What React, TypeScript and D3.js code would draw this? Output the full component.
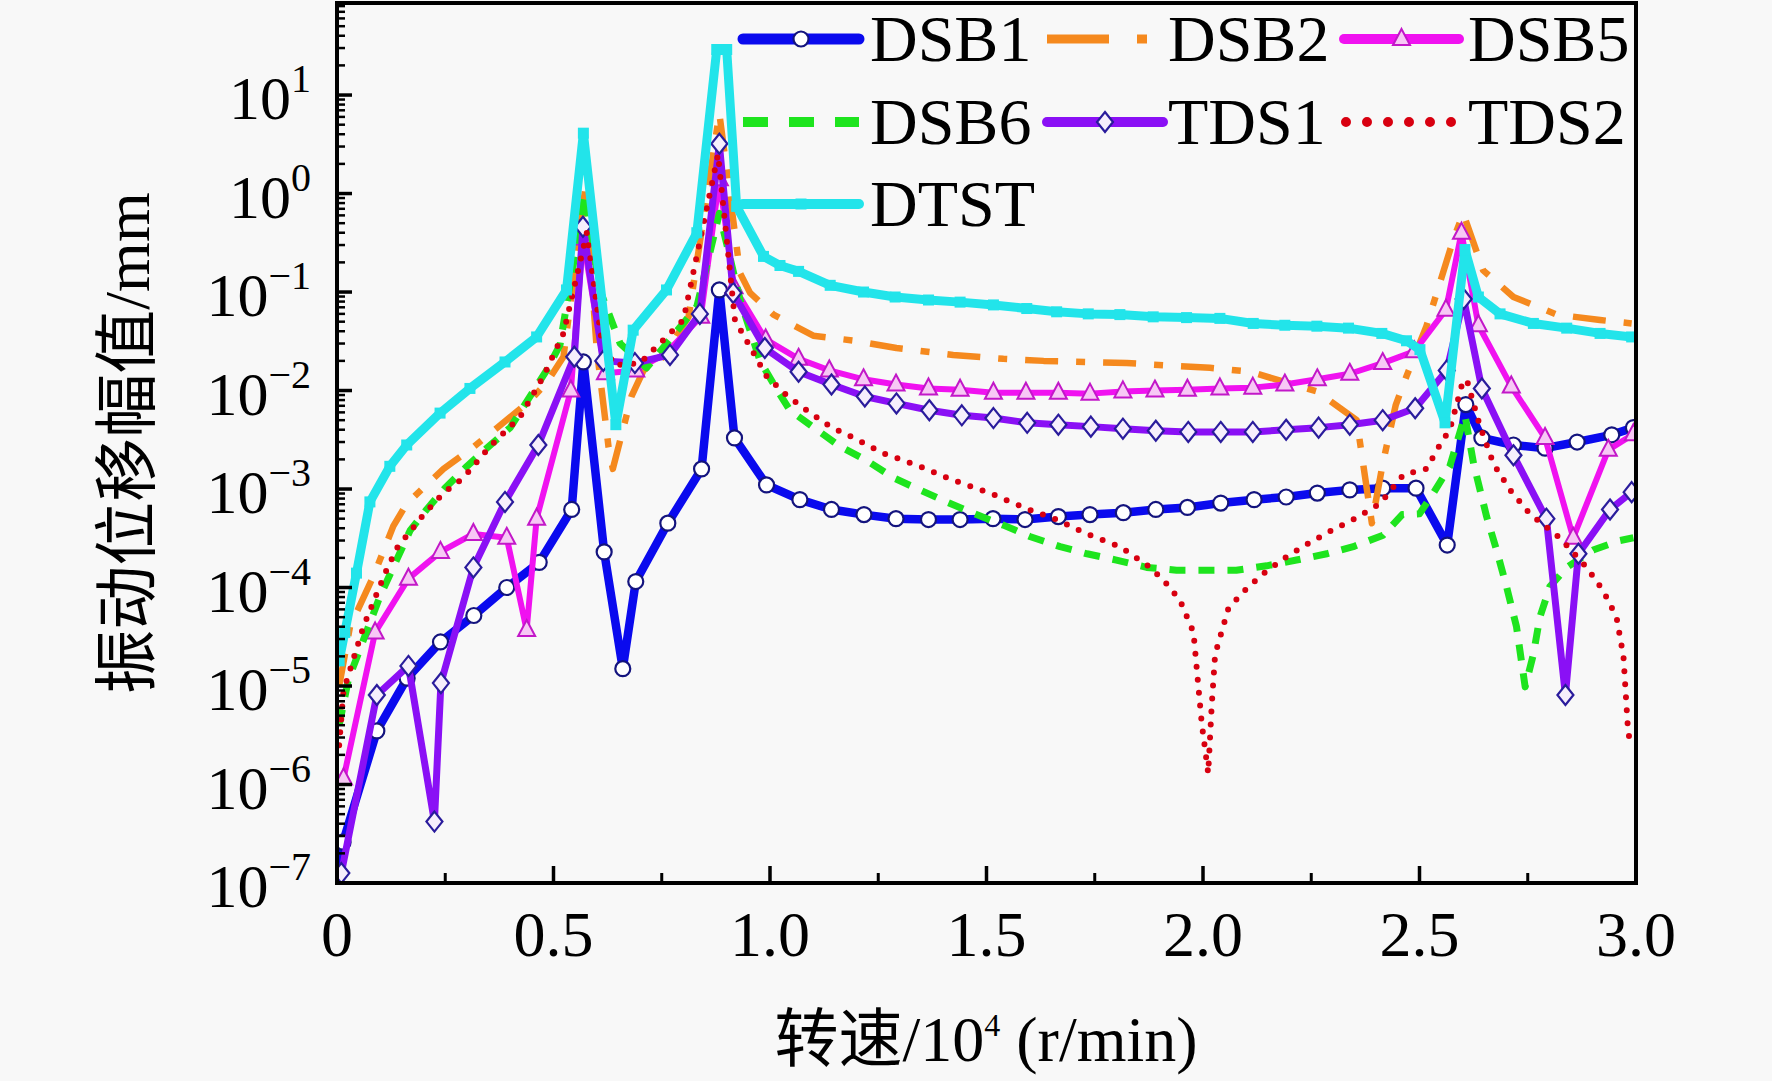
import React from "react";
import * as d3 from "d3";

type Pt = [number, number];

// x: speed (10^4 r/min), y: vibration displacement amplitude (mm)
const dsb1: Pt[] = [
  [0.0, 5.0e-8], [0.014, 2.6e-7], [0.092, 3.5e-6], [0.162, 1.2e-5], [0.239, 2.8e-5], [0.316, 5.2e-5],
  [0.392, 1.0e-4], [0.467, 1.8e-4], [0.542, 6.2e-4], [0.569, 1.95e-2], [0.617, 2.3e-4], [0.66, 1.5e-5],
  [0.69, 1.15e-4], [0.764, 4.5e-4], [0.842, 1.6e-3], [0.883, 0.105], [0.918, 3.3e-3], [0.992, 1.1e-3],
  [1.069, 7.8e-4], [1.142, 6.2e-4], [1.217, 5.5e-4], [1.291, 5.0e-4], [1.366, 4.9e-4], [1.439, 4.9e-4],
  [1.515, 5.0e-4], [1.589, 4.9e-4], [1.666, 5.25e-4], [1.739, 5.5e-4], [1.816, 5.75e-4], [1.891, 6.2e-4],
  [1.964, 6.5e-4], [2.041, 7.2e-4], [2.118, 7.8e-4], [2.192, 8.3e-4], [2.264, 9.1e-4], [2.339, 9.8e-4],
  [2.415, 1.02e-3], [2.492, 1.02e-3], [2.564, 2.7e-4], [2.607, 7.2e-3], [2.644, 3.3e-3], [2.717, 2.8e-3],
  [2.79, 2.6e-3], [2.864, 3.0e-3], [2.944, 3.55e-3], [2.994, 4.2e-3],
];

const dsb2: Pt[] = [
  [0.005, 1.0e-5], [0.03, 4.0e-5], [0.084, 1.3e-4], [0.13, 4.2e-4], [0.161, 7.1e-4], [0.211, 1.15e-3],
  [0.246, 1.6e-3], [0.307, 2.5e-3], [0.384, 4.7e-3], [0.446, 7.9e-3], [0.484, 1.2e-2], [0.523, 2.2e-2],
  [0.573, 1.1], [0.6, 2.6e-2], [0.627, 2.7e-3], [0.637, 1.6e-3], [0.68, 8.7e-3], [0.708, 1.6e-2],
  [0.754, 2.2e-2], [0.812, 5.6e-2], [0.883, 6.5], [0.931, 0.155], [0.954, 9.8e-2], [1.008, 5.9e-2],
  [1.1, 3.6e-2], [1.196, 3.2e-2], [1.292, 2.7e-2], [1.423, 2.3e-2], [1.539, 2.1e-2], [1.632, 2.0e-2],
  [1.732, 1.95e-2], [1.824, 1.9e-2], [1.916, 1.8e-2], [2.016, 1.7e-2], [2.109, 1.55e-2], [2.194, 1.2e-2],
  [2.263, 9.8e-3], [2.355, 5.0e-3], [2.39, 4.5e-4], [2.415, 1.8e-3], [2.445, 7.1e-3], [2.47, 1.4e-2],
  [2.516, 4.5e-2], [2.578, 0.34], [2.601, 0.63], [2.647, 0.166], [2.717, 8.9e-2], [2.817, 5.9e-2],
  [2.917, 5.2e-2], [2.99, 4.8e-2],
];

const dsb5: Pt[] = [
  [0.015, 1.15e-6], [0.088, 3.5e-5], [0.165, 1.23e-4], [0.239, 2.3e-4], [0.315, 3.5e-4], [0.392, 3.2e-4],
  [0.438, 3.7e-5], [0.461, 5.0e-4], [0.54, 1.0e-2], [0.568, 0.35], [0.62, 1.5e-2], [0.69, 1.6e-2],
  [0.76, 2.4e-2], [0.84, 5.6e-2], [0.883, 1.4], [0.917, 0.112], [0.99, 3.3e-2], [1.066, 2.1e-2],
  [1.137, 1.6e-2], [1.216, 1.3e-2], [1.291, 1.15e-2], [1.366, 1.05e-2], [1.439, 1.02e-2], [1.516, 9.5e-3],
  [1.591, 9.5e-3], [1.666, 9.5e-3], [1.739, 9.3e-3], [1.815, 9.8e-3], [1.889, 1.0e-2], [1.964, 1.02e-2],
  [2.039, 1.05e-2], [2.115, 1.07e-2], [2.189, 1.15e-2], [2.264, 1.3e-2], [2.339, 1.48e-2], [2.415, 1.9e-2],
  [2.488, 2.5e-2], [2.561, 6.6e-2], [2.597, 0.4], [2.636, 4.6e-2], [2.712, 1.1e-2], [2.79, 3.3e-3],
  [2.855, 3.2e-4], [2.936, 2.5e-3], [2.994, 3.6e-3],
];

const dsb6: Pt[] = [
  [0.005, 4.0e-6], [0.026, 1.15e-5], [0.099, 8.1e-5], [0.169, 3.8e-4], [0.207, 6.2e-4], [0.249, 1.02e-3],
  [0.3, 1.7e-3], [0.346, 2.6e-3], [0.4, 4.2e-3], [0.484, 1.6e-2], [0.515, 2.9e-2], [0.573, 1.0],
  [0.607, 0.105], [0.654, 3.0e-2], [0.715, 1.7e-2], [0.831, 7.1e-2], [0.883, 0.63], [0.931, 8.3e-2],
  [0.977, 2.0e-2], [1.016, 1.02e-2], [1.046, 6.3e-3], [1.108, 4.0e-3], [1.162, 2.7e-3], [1.223, 1.95e-3],
  [1.285, 1.3e-3], [1.346, 9.8e-4], [1.408, 7.4e-4], [1.477, 5.5e-4], [1.539, 4.3e-4], [1.6, 3.3e-4],
  [1.67, 2.6e-4], [1.732, 2.2e-4], [1.8, 1.9e-4], [1.87, 1.6e-4], [1.939, 1.5e-4], [2.008, 1.5e-4],
  [2.077, 1.5e-4], [2.147, 1.66e-4], [2.216, 1.9e-4], [2.286, 2.2e-4], [2.347, 2.6e-4], [2.416, 3.4e-4],
  [2.46, 5.5e-4], [2.5, 5.6e-4], [2.532, 9.1e-4], [2.57, 1.7e-3], [2.605, 5.6e-3], [2.625, 1.8e-3],
  [2.655, 5.25e-4], [2.678, 2.4e-4], [2.701, 1.02e-4], [2.724, 4.0e-5], [2.744, 9.8e-6], [2.763, 2.1e-5],
  [2.778, 5.0e-5], [2.801, 1.02e-4], [2.84, 1.6e-4], [2.901, 2.4e-4], [2.963, 3.0e-4], [2.994, 3.2e-4],
];

const tds1: Pt[] = [
  [0.01, 1.26e-7], [0.092, 8.1e-6], [0.165, 1.6e-5], [0.225, 4.2e-7], [0.24, 1.07e-5], [0.315, 1.6e-4],
  [0.388, 7.4e-4], [0.465, 2.8e-3], [0.548, 2.2e-2], [0.568, 0.46], [0.615, 2.0e-2], [0.688, 1.9e-2],
  [0.769, 2.3e-2], [0.838, 6.0e-2], [0.883, 3.2], [0.915, 9.8e-2], [0.988, 2.7e-2], [1.066, 1.55e-2],
  [1.142, 1.15e-2], [1.219, 8.7e-3], [1.292, 7.4e-3], [1.368, 6.3e-3], [1.443, 5.6e-3], [1.516, 5.25e-3],
  [1.594, 4.7e-3], [1.666, 4.5e-3], [1.741, 4.3e-3], [1.815, 4.1e-3], [1.891, 3.9e-3], [1.966, 3.8e-3],
  [2.041, 3.8e-3], [2.115, 3.8e-3], [2.192, 4.0e-3], [2.267, 4.2e-3], [2.339, 4.5e-3], [2.415, 5.0e-3],
  [2.49, 6.6e-3], [2.563, 1.6e-2], [2.602, 8.5e-2], [2.644, 1.05e-2], [2.717, 2.2e-3], [2.793, 5.0e-4],
  [2.837, 8.1e-6], [2.867, 2.2e-4], [2.94, 6.2e-4], [2.99, 9.3e-4],
];

const tds2: Pt[] = [
  [0.005, 2.5e-6], [0.015, 8.9e-6], [0.061, 4.0e-5], [0.111, 1.4e-4], [0.138, 2.5e-4], [0.2, 5.5e-4],
  [0.246, 9.1e-4], [0.292, 1.3e-3], [0.353, 2.7e-3], [0.423, 5.4e-3], [0.477, 1.4e-2], [0.523, 3.8e-2],
  [0.577, 0.4], [0.61, 3.5e-2], [0.64, 1.8e-2], [0.7, 1.9e-2], [0.8, 5.2e-2], [0.88, 2.5],
  [0.919, 5.2e-2], [0.962, 2.4e-2], [0.992, 1.4e-2], [1.039, 8.9e-3], [1.085, 6.3e-3], [1.139, 4.3e-3],
  [1.2, 3.2e-3], [1.262, 2.3e-3], [1.346, 1.7e-3], [1.423, 1.23e-3], [1.508, 9.1e-4], [1.593, 6.3e-4],
  [1.662, 4.9e-4], [1.732, 3.5e-4], [1.808, 2.6e-4], [1.87, 1.7e-4], [1.908, 1.2e-4], [1.947, 7.4e-5],
  [1.978, 3.5e-5], [1.997, 4.2e-6], [2.012, 1.3e-6], [2.02, 6.2e-6], [2.028, 2.1e-5], [2.058, 6.0e-5],
  [2.089, 8.7e-5], [2.136, 1.35e-4], [2.189, 2.0e-4], [2.243, 2.8e-4], [2.297, 3.8e-4], [2.351, 5.0e-4],
  [2.409, 7.1e-4], [2.463, 1.4e-3], [2.516, 1.6e-3], [2.547, 2.8e-3], [2.57, 4.0e-3], [2.597, 1.1e-2],
  [2.609, 1.3e-2], [2.64, 4.3e-3], [2.671, 1.8e-3], [2.709, 9.8e-4], [2.755, 5.6e-4], [2.824, 3.2e-4],
  [2.886, 1.6e-4], [2.924, 9.3e-5], [2.955, 5.0e-5], [2.971, 2.0e-5], [2.982, 3.3e-6], [2.99, 2.5e-6],
];

const dtst: Pt[] = [
  [0.005, 1.8e-5], [0.018, 3.5e-5], [0.045, 1.4e-4], [0.076, 7.4e-4], [0.122, 1.7e-3], [0.161, 2.8e-3],
  [0.238, 5.9e-3], [0.307, 1.05e-2], [0.388, 1.95e-2], [0.461, 3.5e-2], [0.53, 0.105], [0.569, 4.1],
  [0.644, 4.5e-3], [0.684, 4.1e-2], [0.761, 0.105], [0.831, 0.4], [0.877, 29], [0.9, 29],
  [0.923, 0.74], [0.985, 0.23], [1.023, 0.186], [1.066, 0.162], [1.139, 0.117], [1.216, 0.1],
  [1.289, 8.9e-2], [1.366, 8.3e-2], [1.439, 7.9e-2], [1.516, 7.4e-2], [1.593, 6.8e-2], [1.662, 6.3e-2],
  [1.735, 6.0e-2], [1.808, 5.9e-2], [1.885, 5.6e-2], [1.962, 5.5e-2], [2.039, 5.4e-2], [2.116, 4.8e-2],
  [2.189, 4.6e-2], [2.263, 4.5e-2], [2.336, 4.3e-2], [2.413, 3.8e-2], [2.47, 3.2e-2], [2.501, 2.6e-2],
  [2.559, 4.7e-3], [2.605, 0.27], [2.636, 8.9e-2], [2.686, 6.0e-2], [2.763, 4.8e-2], [2.84, 4.3e-2],
  [2.917, 3.8e-2], [2.99, 3.5e-2],
];

const xTickValues = [0, 0.5, 1.0, 1.5, 2.0, 2.5, 3.0];
const xTickLabels = ["0", "0.5", "1.0", "1.5", "2.0", "2.5", "3.0"];
const xMinorValues = [0.25, 0.75, 1.25, 1.75, 2.25, 2.75];
const yExponents = [-7, -6, -5, -4, -3, -2, -1, 0, 1];
const seriesNames = ["DSB1", "DSB2", "DSB5", "DSB6", "TDS1", "TDS2", "DTST"];

const FONT = "'Liberation Serif', 'Times New Roman', serif";
const CJK = "'Liberation Serif', 'Noto Sans CJK SC', serif";

type Marker = "circle" | "triangle" | "diamond" | "square" | null;
interface Style {
  color: string;
  width: number;
  dash?: string;
  cap?: "round" | "butt";
  marker: Marker;
  lWidth: number;
  lDash?: string;
}

const styles: Record<string, Style> = {
  DSB1: { color: "#0a0aee", width: 8.5, marker: "circle", lWidth: 11 },
  DSB2: { color: "#f5891e", width: 6.5, dash: "33 18 9 18", marker: null, lWidth: 9, lDash: "62 28 10 200" },
  DSB5: { color: "#f012f0", width: 6, marker: "triangle", lWidth: 10 },
  DSB6: { color: "#1ee41e", width: 7, dash: "16 13", marker: null, lWidth: 10, lDash: "25 21" },
  TDS1: { color: "#8a10f5", width: 7, marker: "diamond", lWidth: 10 },
  TDS2: { color: "#d80010", width: 6, dash: "0 13", cap: "round", marker: null, lWidth: 10, lDash: "0 21" },
  DTST: { color: "#22e4ea", width: 9, marker: "square", lWidth: 10 },
};

const dataByName: Record<string, Pt[]> = {
  DSB1: dsb1, DSB2: dsb2, DSB5: dsb5, DSB6: dsb6, TDS1: tds1, TDS2: tds2, DTST: dtst,
};

function MarkerShape({ type, cx, cy, color }: { type: Marker; cx: number; cy: number; color: string }) {
  if (type === "circle") {
    return <circle cx={cx} cy={cy} r={7.5} fill="#ffffff" stroke="#14147e" strokeWidth={2.2} />;
  }
  if (type === "triangle") {
    const p = `M${cx},${cy - 10}L${cx + 8.5},${cy + 6}L${cx - 8.5},${cy + 6}Z`;
    return <path d={p} fill="#f7c8f5" stroke="#c218c8" strokeWidth={2} />;
  }
  if (type === "diamond") {
    const p = `M${cx},${cy - 10}L${cx + 8},${cy}L${cx},${cy + 10}L${cx - 8},${cy}Z`;
    return <path d={p} fill="#f6eefc" stroke="#2a1c9c" strokeWidth={2.2} />;
  }
  if (type === "square") {
    return <rect x={cx - 5.5} y={cy - 5.5} width={11} height={11} fill={color} />;
  }
  return null;
}

export default function App() {
  const W = 1772;
  const H = 1081;
  const left = 337, right = 1636, top = 3, bottom = 883;
  const x = d3.scaleLinear().domain([0, 3]).range([left, right]);
  const y = d3.scaleLog().domain([1e-7, 86]).range([bottom, top]);
  const line = d3
    .line<Pt>()
    .x((d) => x(d[0]))
    .y((d) => y(d[1]));

  const yAll = y.ticks();
  const yMinor = yAll.filter((v) => {
    const l = Math.log10(v);
    return Math.abs(l - Math.round(l)) > 1e-6;
  });

  const legendCols = [
    { l0: 743, l1: 859, tx: 870 },
    { l0: 1047, l1: 1163, tx: 1168 },
    { l0: 1344, l1: 1459, tx: 1468 },
  ];
  const legendRows = [39, 122, 204];

  return (
    <div style={{ position: "absolute", left: 0, top: 0, width: W, height: H }}>
      <svg width={W} height={H} viewBox={`0 0 ${W} ${H}`} style={{ display: "block" }}>
        <rect x={0} y={0} width={W} height={H} fill="#f8f8f8" />
        <defs>
          <clipPath id="plotClip">
            <rect x={left} y={top} width={right - left} height={bottom - top} />
          </clipPath>
        </defs>

        {/* series */}
        <g clipPath="url(#plotClip)">
          {seriesNames.map((name) => {
            const s = styles[name];
            const data = dataByName[name];
            return (
              <g key={name}>
                <path
                  d={line(data) || ""}
                  fill="none"
                  stroke={s.color}
                  strokeWidth={s.width}
                  strokeDasharray={s.dash}
                  strokeLinecap={s.cap || "butt"}
                  strokeLinejoin="round"
                />
                {s.marker &&
                  data
                    .filter((d) => d[1] >= 1e-7 && d[1] <= 86)
                    .map((d, i) => (
                      <MarkerShape key={name + i} type={s.marker} cx={x(d[0])} cy={y(d[1])} color={s.color} />
                    ))}
              </g>
            );
          })}
        </g>

        {/* frame */}
        <rect x={left} y={top} width={right - left} height={bottom - top} fill="none" stroke="#000" strokeWidth={4} />

        {/* x ticks */}
        {xTickValues.map((v, i) => (
          <g key={"xt" + i}>
            <line x1={x(v)} x2={x(v)} y1={bottom} y2={bottom - 17} stroke="#000" strokeWidth={3.5} />
            <text x={x(v)} y={956} textAnchor="middle" fontFamily={FONT} fontSize={64} fill="#000">
              {xTickLabels[i]}
            </text>
          </g>
        ))}
        {xMinorValues.map((v, i) => (
          <line key={"xm" + i} x1={x(v)} x2={x(v)} y1={bottom} y2={bottom - 10} stroke="#000" strokeWidth={3} />
        ))}

        {/* y ticks */}
        {yExponents.map((e) => {
          const yy = y(Math.pow(10, e));
          return (
            <g key={"yt" + e}>
              <line x1={left} x2={left + 15} y1={yy} y2={yy} stroke="#000" strokeWidth={3.5} />
              <text x={311} y={yy + 24} textAnchor="end" fontFamily={FONT} fontSize={62} fill="#000">
                10
                <tspan fontSize={40} dy={-27}>
                  {e < 0 ? "\u2212" + Math.abs(e) : String(e)}
                </tspan>
              </text>
            </g>
          );
        })}
        {yMinor.map((v, i) => (
          <line key={"ym" + i} x1={left} x2={left + 8} y1={y(v)} y2={y(v)} stroke="#000" strokeWidth={2.5} />
        ))}

        {/* axis titles */}
        <text
          transform={`translate(127, 443) rotate(-90)`}
          textAnchor="middle"
          dominantBaseline="central"
          fontFamily={CJK}
          fontSize={64}
          fill="#000"
        >
          振动位移幅值/mm
        </text>
        <text x={986} y={1061} textAnchor="middle" fontFamily={CJK} fontSize={64} fill="#000">
          转速/10
          <tspan fontSize={32} dy={-25}>
            4
          </tspan>
          <tspan dy={25}> (r/min)</tspan>
        </text>

        {/* legend */}
        {seriesNames.map((name, i) => {
          const s = styles[name];
          const col = legendCols[i % 3];
          const ry = legendRows[Math.floor(i / 3)];
          let l0 = col.l0;
          let l1 = col.l1;
          if (name === "TDS2") {
            l0 = 1346;
            l1 = 1452;
          }
          return (
            <g key={"lg" + name}>
              <line
                x1={l0}
                x2={l1}
                y1={ry}
                y2={ry}
                stroke={s.color}
                strokeWidth={s.lWidth}
                strokeDasharray={s.lDash}
                strokeLinecap={s.cap === "round" ? "round" : s.lDash ? "butt" : "round"}
              />
              {s.marker && <MarkerShape type={s.marker} cx={(col.l0 + col.l1) / 2} cy={ry} color={s.color} />}
              <text x={col.tx} y={ry + 22} fontFamily={FONT} fontSize={66} fill="#000">
                {name}
              </text>
            </g>
          );
        })}
      </svg>
    </div>
  );
}
